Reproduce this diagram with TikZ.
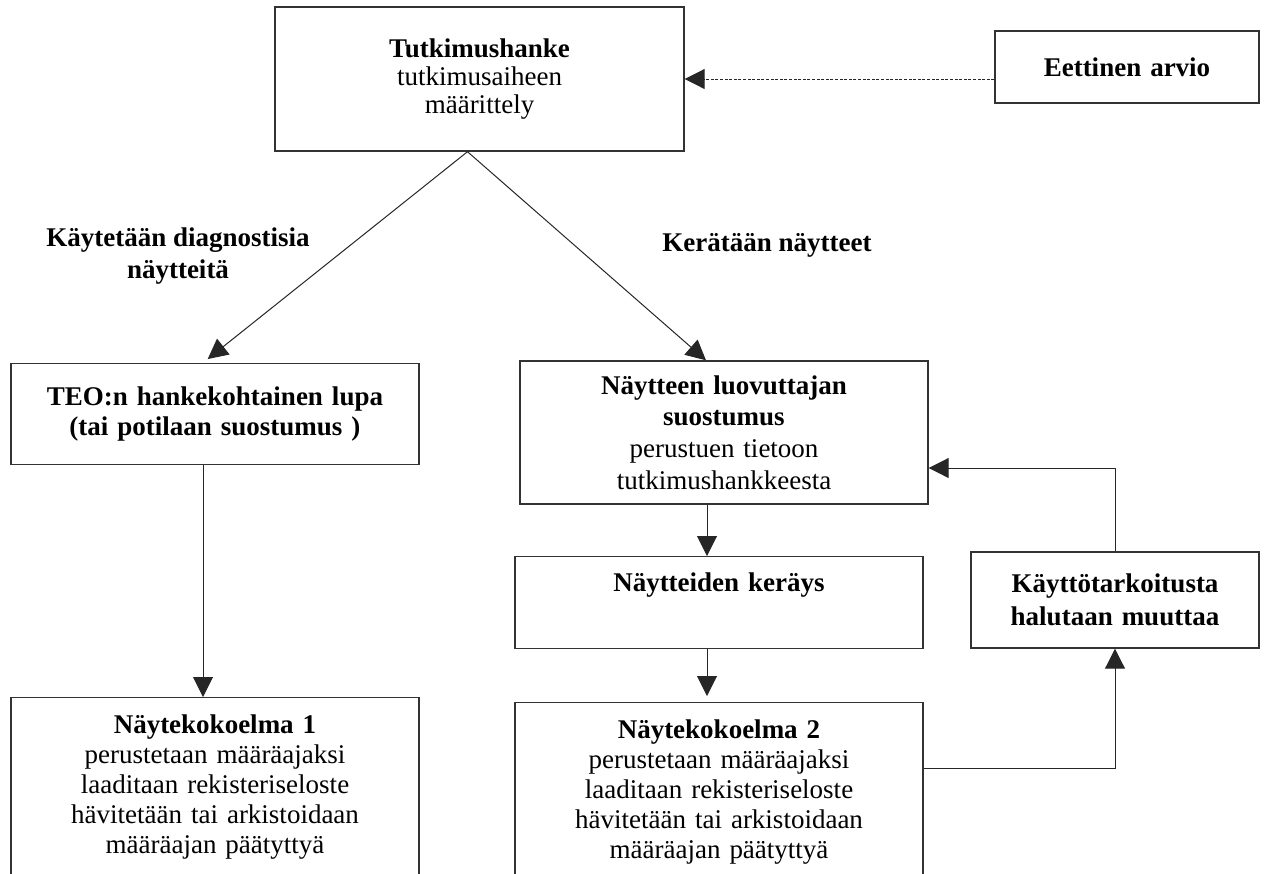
\documentclass[tikz,border=0pt]{standalone}
\usepackage{fontspec}
\setmainfont{Liberation Serif}
\usetikzlibrary{arrows.meta}

\begin{document}
\begin{tikzpicture}[x=0.5pt, y=-0.5pt,
  box/.style={draw=black!80, line width=0.7pt, align=center, inner sep=0pt, font=\fontsize{13.5}{15}\selectfont},
  lbl/.style={align=center, inner sep=0pt, font=\fontsize{13.5}{16}\selectfont\bfseries},
  arr/.style={-{Triangle[length=10pt, width=10pt]}, line width=0.5pt, draw=black!85},
  dots/.style={arr, dash pattern=on 1.5pt off 0.8pt}]
  \useasboundingbox (0,0) rectangle (1266,874);
  \clip (0,0) rectangle (1266,874);
  % boxes
  \node[box, text width=204.5pt, minimum height=72pt, font=\fontsize{13.5}{14}\selectfont] (tutk) at (479.5,79) {\textbf{Tutkimushanke}\\tutkimusaiheen\\määrittely};
  \node[box, text width=132pt, minimum height=36pt] (etiikka) at (1127,67) {\textbf{Eettinen arvio}};
  \node[box, text width=204pt, minimum height=50.5pt] (teo) at (215,414) {\textbf{TEO:n hankekohtainen lupa}\\\textbf{(tai potilaan suostumus )}};
  \node[box, text width=204pt, minimum height=71.5pt, font=\fontsize{13.5}{15.8}\selectfont] (suost) at (724,432.5) {\textbf{Näytteen luovuttajan}\\\textbf{suostumus}\\perustuen tietoon\\tutkimushankkeesta};
  \node[box, text width=204pt, anchor=north, text height=17.5pt, text depth=28.5pt] (keruu) at (719,556) {\textbf{Näytteiden keräys}};
  \node[box, text width=144pt, minimum height=48pt, font=\fontsize{13.5}{16.5}\selectfont] (muutos) at (1115,600) {\textbf{Käyttötarkoitusta}\\\textbf{halutaan muuttaa}};
  \node[box, text width=204pt, anchor=north, text height=18pt, text depth=85pt] (kok1) at (215,697) {\textbf{Näytekokoelma 1}\\perustetaan määräajaksi\\laaditaan rekisteriseloste\\hävitetään tai arkistoidaan\\määräajan päätyttyä};
  \node[box, text width=204pt, anchor=north, text height=18pt, text depth=85pt] (kok2) at (719,702) {\textbf{Näytekokoelma 2}\\perustetaan määräajaksi\\laaditaan rekisteriseloste\\hävitetään tai arkistoidaan\\määräajan päätyttyä};
  % labels
  \node[lbl] (diag) at (178,256) {Käytetään diagnostisia\\näytteitä};
  \node[lbl] (kerays) at (767,245) {Kerätään näytteet};
  % connectors
  \coordinate (apex) at ([xshift=-6pt]tutk.south);
  \draw[arr, shorten >=3pt] (apex) -- ([xshift=-6pt]teo.north);
  \draw[arr] (apex) -- ([xshift=-9pt]suost.north);
  \draw[dots] (etiikka.west |- tutk.east) -- (tutk.east);
  \draw[arr] ([xshift=-6pt]teo.south) -- ([xshift=-6pt]kok1.north);
  \draw[arr] ([xshift=-8.5pt]suost.south) -- ([xshift=-8.5pt]suost.south |- keruu.north);
  \draw[arr, shorten >=3pt] ([xshift=-6pt]keruu.south) -- ([xshift=-6pt]kok2.north);
  \draw[arr] ([yshift=-33pt]kok2.north east) -| (muutos.south);
  \draw[arr] (muutos.north) |- ([yshift=-17.75pt]suost.east);
\end{tikzpicture}
\end{document}
